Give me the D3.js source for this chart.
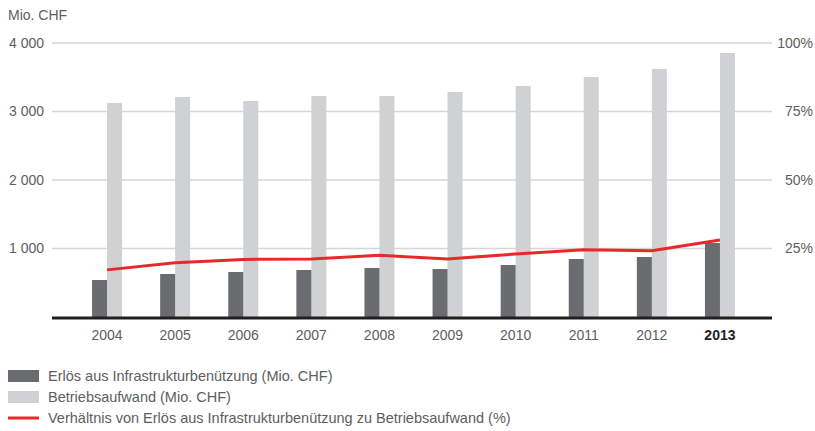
<!DOCTYPE html>
<html>
<head>
<meta charset="utf-8">
<script src="https://cdn.jsdelivr.net/npm/d3@7"></script>
<style>
  html, body { margin: 0; padding: 0; background: #fff; }
  svg { display: block; font-family: "Liberation Sans", Arial, sans-serif; }
</style>
</head>
<body>
<div id="chart"></div>
<script>
const years = ['2004', '2005', '2006', '2007', '2008', '2009', '2010', '2011', '2012', '2013'];
const erloes = [540, 628, 657, 686, 715, 700, 759, 847, 876, 1080];
const aufwand = [3125, 3212, 3153, 3226, 3226, 3285, 3372, 3504, 3620, 3854];
const verhaeltnis = [17.2, 19.8, 21.0, 21.2, 22.5, 21.2, 23.0, 24.5, 24.2, 28.1];
const leftTicks = [1000, 2000, 3000, 4000];
const rightTicks = [25, 50, 75, 100];
const legendItems = [
  { label: 'Erlös aus Infrastrukturbenützung (Mio. CHF)', type: 'bar', color: '#6b6c70' },
  { label: 'Betriebsaufwand (Mio. CHF)', type: 'bar', color: '#d0d1d3' },
  { label: 'Verhältnis von Erlös aus Infrastrukturbenützung zu Betriebsaufwand (%)', type: 'line', color: '#e8282b' }
];

const width = 815;
const height = 431;
const margin = { top: 43, right: 43, bottom: 114, left: 52 };
const textColor = '#5d5e60';

const svg = d3.select('#chart')
  .append('svg')
  .attr('width', width)
  .attr('height', height);

// Scales
const x = d3.scaleBand()
  .domain(years)
  .range([73, 754])
  .padding(0);

const y = d3.scaleLinear()
  .domain([0, 4000])
  .range([height - margin.bottom, margin.top]);

const yPct = d3.scaleLinear()
  .domain([0, 100])
  .range([height - margin.bottom, margin.top]);

const barW = 15;

// Gridlines
svg.append('g')
  .selectAll('line')
  .data(leftTicks)
  .join('line')
  .attr('x1', margin.left)
  .attr('x2', width - margin.right)
  .attr('y1', d => y(d))
  .attr('y2', d => y(d))
  .attr('stroke', '#d6d6d7')
  .attr('stroke-width', 1.5);

// Left axis labels
svg.append('g')
  .selectAll('text')
  .data(leftTicks)
  .join('text')
  .attr('x', 44)
  .attr('y', d => y(d))
  .attr('dy', '0.35em')
  .attr('text-anchor', 'end')
  .attr('fill', textColor)
  .attr('font-size', '14px')
  .text(d => d3.format(',')(d).replace(',', ' '));

svg.append('text')
  .attr('x', 8)
  .attr('y', 20)
  .attr('fill', textColor)
  .attr('font-size', '14px')
  .text('Mio. CHF');

// Right axis labels
svg.append('g')
  .selectAll('text')
  .data(rightTicks)
  .join('text')
  .attr('x', 813)
  .attr('y', d => yPct(d))
  .attr('dy', '0.35em')
  .attr('text-anchor', 'end')
  .attr('fill', textColor)
  .attr('font-size', '14px')
  .text(d => d + '%');

// Bars
const center = d => x(d) + x.bandwidth() / 2;

svg.append('g')
  .selectAll('rect')
  .data(years)
  .join('rect')
  .attr('x', d => center(d))
  .attr('y', (d, i) => y(aufwand[i]))
  .attr('width', barW)
  .attr('height', (d, i) => y(0) - y(aufwand[i]))
  .attr('fill', '#d0d1d3');

svg.append('g')
  .selectAll('rect')
  .data(years)
  .join('rect')
  .attr('x', d => center(d) - barW)
  .attr('y', (d, i) => y(erloes[i]))
  .attr('width', barW)
  .attr('height', (d, i) => y(0) - y(erloes[i]))
  .attr('fill', '#6b6c70');

// Baseline
svg.append('line')
  .attr('x1', margin.left)
  .attr('x2', width - margin.right)
  .attr('y1', y(0) + 1)
  .attr('y2', y(0) + 1)
  .attr('stroke', '#231f20')
  .attr('stroke-width', 3);

// Ratio line
const line = d3.line()
  .x(d => center(d))
  .y((d, i) => yPct(verhaeltnis[i]));

svg.append('path')
  .datum(years)
  .attr('d', line)
  .attr('fill', 'none')
  .attr('stroke', '#e8282b')
  .attr('stroke-width', 3);

// X labels
svg.append('g')
  .selectAll('text')
  .data(years)
  .join('text')
  .attr('x', d => center(d))
  .attr('y', 340)
  .attr('text-anchor', 'middle')
  .attr('fill', d => d === '2013' ? '#231f20' : textColor)
  .attr('font-weight', d => d === '2013' ? 'bold' : 'normal')
  .attr('font-size', '14px')
  .text(d => d);

// Legend
const legend = svg.append('g')
  .selectAll('g')
  .data(legendItems)
  .join('g')
  .attr('transform', (d, i) => `translate(8,${376 + i * 21})`);

legend.filter(d => d.type === 'bar')
  .append('rect')
  .attr('x', 0)
  .attr('y', -6)
  .attr('width', 31)
  .attr('height', 12)
  .attr('fill', d => d.color);

legend.filter(d => d.type === 'line')
  .append('line')
  .attr('x1', 0)
  .attr('x2', 31)
  .attr('y1', 0)
  .attr('y2', 0)
  .attr('stroke', d => d.color)
  .attr('stroke-width', 3);

legend.append('text')
  .attr('x', 40)
  .attr('y', 0)
  .attr('dy', '0.35em')
  .attr('fill', textColor)
  .attr('font-size', '14.5px')
  .text(d => d.label);
</script>
</body>
</html>
